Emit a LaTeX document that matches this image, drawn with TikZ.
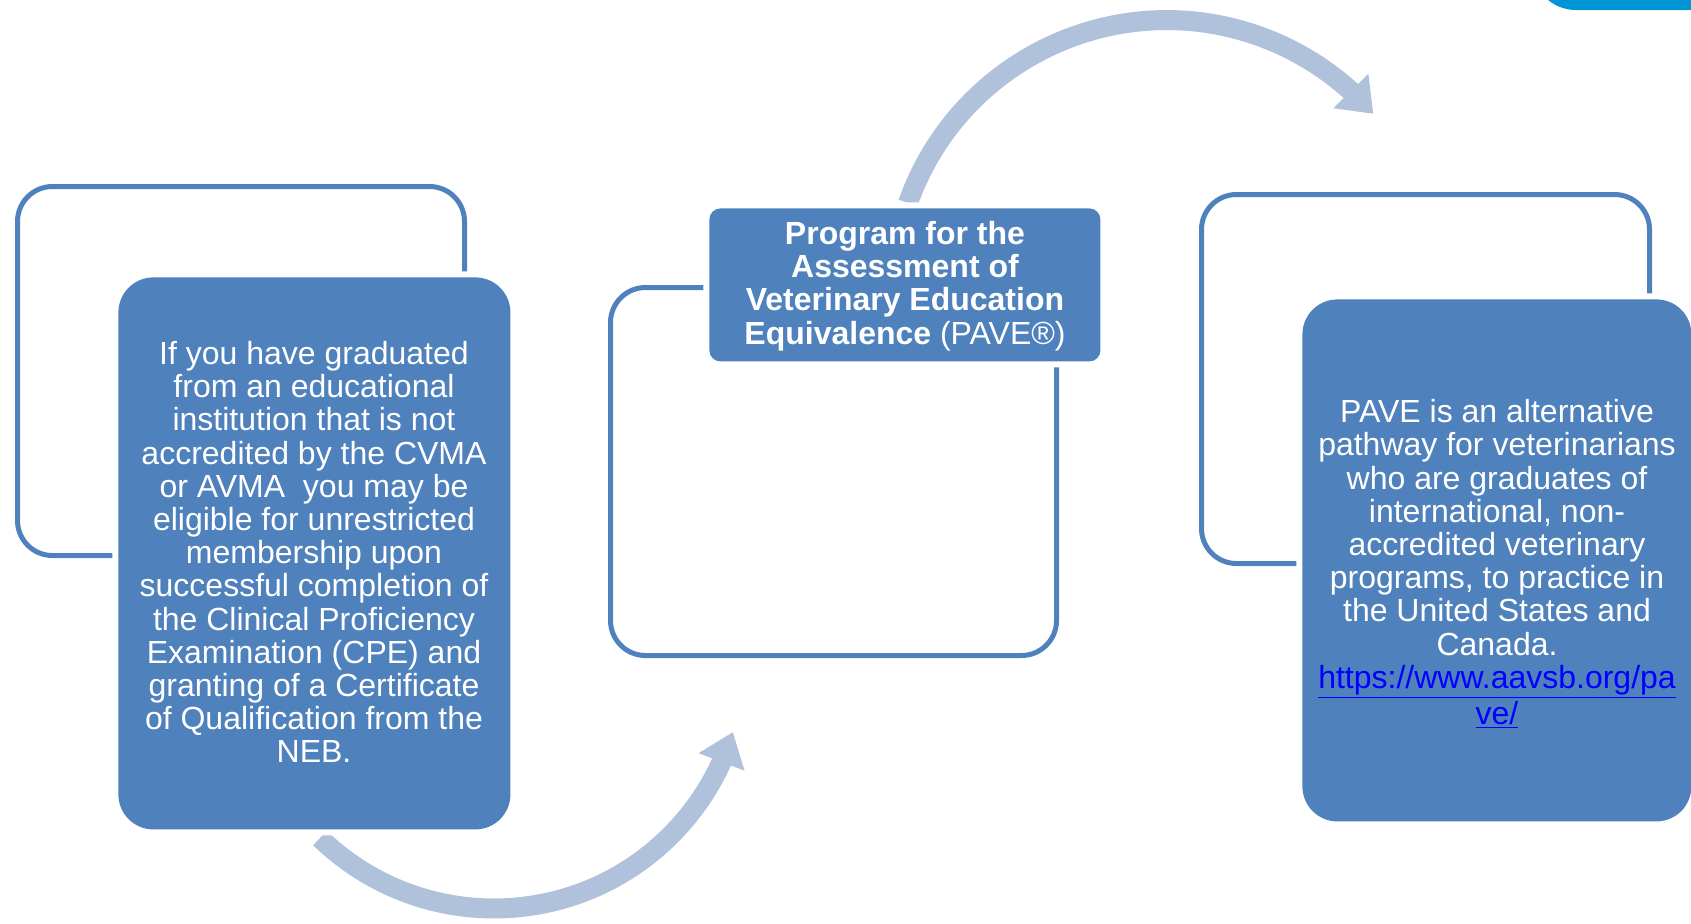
\documentclass[tikz,border=0pt]{standalone}
\usepackage{fontspec}
\setmainfont{Liberation Sans}
\usetikzlibrary{arrows.meta,bending}
\definecolor{boxblue}{HTML}{4F81BD}
\definecolor{arrowblue}{HTML}{B0C1DC}
\definecolor{topblue}{HTML}{0096D6}
\definecolor{linkblue}{HTML}{0000FF}
\begin{document}
\begin{tikzpicture}[x=0.5pt,y=-0.5pt,
  outlinebox/.style={draw=boxblue, line width=2.5pt, rounded corners=17.5pt, rectangle, inner sep=0pt, anchor=north west},
  bluebox/.style={fill=boxblue, rounded corners=#1, rectangle, inner sep=0pt, anchor=north west, preaction={draw=white, line width=6pt}},
  boxtext/.style={font=\fontsize{16}{16.6}\selectfont, text=white, align=center, inner sep=0pt},
  bigarrow/.style={draw=arrowblue, line width=10pt, -{Triangle[length=16pt,width=23.5pt,flex]}}
]
\path[use as bounding box] (0,0) rectangle (1691,923);
\clip (0,0) rectangle (1691,923);

% top-right partial shape
\fill[topblue, rounded corners=22pt] (1532,-80) rectangle (1800,10);

% curved arrows
\coordinate (a1) at (908,203);
\draw[bigarrow] (a1) arc[start angle=199.5, end angle=318.8, radius=274.5];
\coordinate (a2) at (320,838);
\draw[bigarrow] (a2) arc[start angle=134.1, end angle=17.1, radius=250];

% outlines
\node[outlinebox, minimum width=223.5pt, minimum height=184.5pt] (lout) at (15,184) {};
\node[outlinebox, minimum width=223pt, minimum height=184pt] (mout) at (608,285) {};
\node[outlinebox, minimum width=224pt, minimum height=184.5pt] (rout) at (1199,192) {};

% filled boxes
\node[bluebox=17.5pt, minimum width=196pt, minimum height=276pt] (lbox) at (118,277) {};
\node[bluebox=5.5pt, minimum width=195.5pt, minimum height=76.5pt] (mbox) at (709,208) {};
\node[bluebox=17.5pt, minimum width=194.5pt, minimum height=261pt] (rbox) at (1302,299) {};

% texts
\node[boxtext] (ltext) at (314,552) {If you have graduated\\from an educational\\institution that is not\\accredited by the CVMA\\or AVMA\ \ you may be\\eligible for unrestricted\\membership upon\\successful completion of\\the Clinical Proficiency\\Examination (CPE) and\\granting of a Certificate\\of Qualification from the\\NEB.};
\node[boxtext] (mtext) at (905,286) {\textbf{Program for the}\\\textbf{Assessment of}\\\textbf{Veterinary Education}\\\textbf{Equivalence} (PAVE®)};
\node[boxtext] (rtext) at (1497,564) {PAVE is an alternative\\pathway for veterinarians\\who are graduates of\\international, non-\\accredited veterinary\\programs, to practice in\\the United States and\\Canada.\\{\color{linkblue}\underline{https://www.aavsb.org/pa}}\\{\color{linkblue}\underline{ve/}}};
\end{tikzpicture}
\end{document}
